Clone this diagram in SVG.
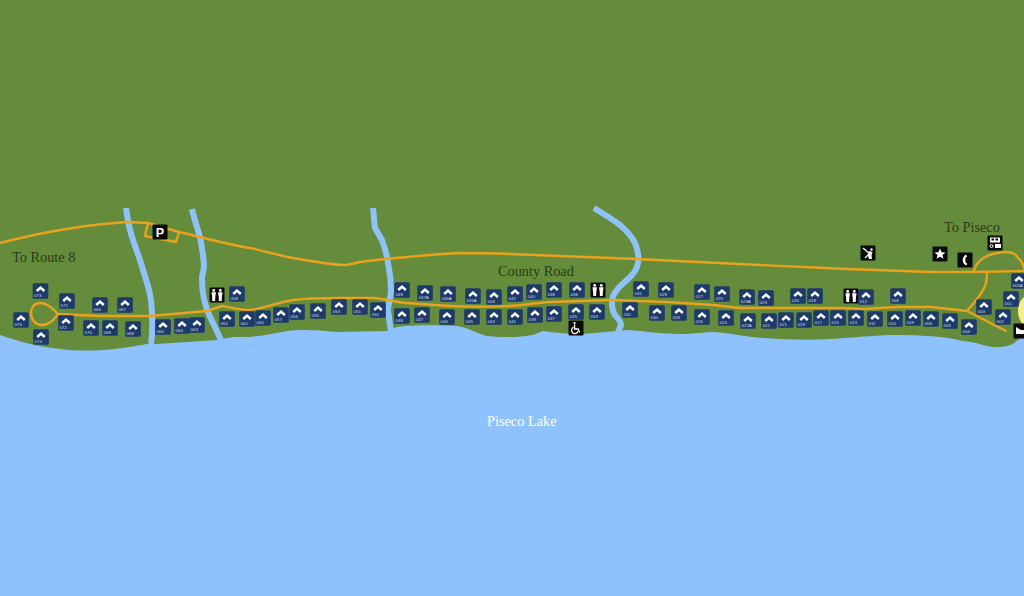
<svg xmlns="http://www.w3.org/2000/svg" width="1024" height="596" viewBox="0 0 1024 596">
<style>
.road{fill:none;stroke:#e9a21e;stroke-width:2.4;stroke-linejoin:round;stroke-linecap:round}
.stream{fill:none;stroke:#8ec2ff;stroke-width:6;stroke-linejoin:round}
.map{font-family:"Liberation Serif",serif;fill:#2b3a1c;font-size:14.3px}
.lake{fill:#fff;font-size:14.3px}
.id{font-family:"Liberation Sans",sans-serif;font-size:4.4px;fill:#d4dbe6}
.tile{fill:#1c3a6b}
.chev{fill:none;stroke:#fff;stroke-width:2.5}
.blk{fill:#0a0a0a}
.wh{fill:#fff}
.whl{fill:none;stroke:#fff;stroke-width:1.3}
</style>
<defs>
<g id="site"><rect class="tile" x="-7.8" y="-7.8" width="15.6" height="15.6" rx="1.5"/><path class="chev" d="M-3.8 0L0 -3.4L3.8 0"/></g>
<g id="restroom"><rect class="blk" x="-7.5" y="-7.5" width="15" height="15" rx="1"/><circle class="wh" cx="-3.3" cy="-4.6" r="1.4"/><path class="wh" d="M-5.6 -2.7H-1L-1.7 1.5L-1.9 6H-4.7L-4.9 1.5Z"/><circle class="wh" cx="3.3" cy="-4.6" r="1.4"/><path class="wh" d="M1 -2.7H5.6L4.9 1.5L4.7 6H1.9L1.7 1.5Z"/></g>
</defs>
<rect id="land" width="1024" height="596" fill="#658c3a"/>
<path id="lake" fill="#8ec2ff" d="M0 335C20 342 40 347 60 349C85 352 110 351 147 344L157 344L217 340L233 337L250 337C262 336 276 333 287 331C300 329 318 330 337 332L387 331L397 327C410 325 440 325 457 326C467 327 478 334 487 336C505 338 520 337 533 335L543 331C555 333 570 334 583 334L617 331L627 330C645 331 660 334 680 334C695 334 705 332 713 332C730 333 745 337 764 338C790 340 815 340 831 339C860 337 880 335 897 335C915 335 930 336 941 337C952 338 960 341 971 342C982 344 990 348 997 347C1005 347 1012 345 1014 343L1024 335V596H0Z"/>
<ellipse id="beach" cx="1028" cy="311" rx="10" ry="15" fill="#f7ec8e"/>
<g id="streams">
<path class="stream" d="M126 208C128 222 130 232 133 240C137 252 141 262 143 270C147 282 150 292 151 300C152 310 153 330 151 344"/>
<path class="stream" d="M192 209C195 222 198 230 200 237C202 248 204 258 204 267L202 277C202 288 203 296 205 303C207 312 210 316 213 323L221 340"/>
<path class="stream" d="M373 208L375 228L382 240C385 248 387 256 388 263C390 272 391 282 391 290C391 298 388 304 388 310L391 332"/>
<path class="stream" d="M594 208C604 214 612 219 620 225C627 231 632 237 635 243C638 250 639 257 638 263C637 268 635 272 632 275C627 281 620 285 617 290C613 294 612 298 612 303C612 308 613 312 615 315C618 319 621 321 621 325L618 332"/>
</g>
<g id="connectors">
<path class="road" d="M0 243C35 234 80 225 127 222L148 223L179 232C205 238 230 245 250 248C265 251 280 256 293 258C312 261 330 265 347 265L360 262C375 260 400 257 457 253C475 253 490 253 510 254L637 259L760 265L847 269L931 272H974L1024 271"/>
<path class="road" d="M148 223L145 236L176 242L179 232"/>
<path class="road" d="M974 271C976 262 984 254 1004 252C1012 252 1016 254 1017 257C1021 260 1023 264 1024 268"/>
<path class="road" d="M987 272C987 280 986 285 984 288C980 297 973 304 967 311L1006 331"/>
<path class="road" d="M58 314L100 316L150 316L207 311L222 306C232 308 240 310 250 310C262 309 275 303 293 300C310 298 322 298 337 298H373C385 299 395 302 407 303L450 306C470 307 490 307 510 306C525 305 535 303 550 302L613 300L667 302L713 305L740 308L764 308L841 308L864 309L897 307H931L967 311"/>
<path class="road" d="M58 314C52 308 47 303 40 303C34 303 31 308 31 313C31 320 36 325 42 325C48 325 54 320 58 314"/>
</g>
<g id="labels">
<text class="map" x="12" y="262">To Route 8</text>
<text class="map" x="498" y="276">County Road</text>
<text class="map" x="944" y="232">To Piseco</text>
<text class="map lake" x="487" y="426">Piseco Lake</text>
</g>
<g id="parking" transform="translate(160 232)"><rect class="blk" x="-7.5" y="-7.5" width="15" height="15" rx="1"/><text x="0" y="4.6" text-anchor="middle" font-family="Liberation Sans,sans-serif" font-weight="700" font-size="12.5" fill="#fff">P</text></g>
<g id="restroom-1" transform="translate(217 295)"><use href="#restroom"/></g>
<g id="restroom-2" transform="translate(598 290)"><use href="#restroom"/></g>
<g id="restroom-3" transform="translate(851 296)"><use href="#restroom"/></g>
<g id="accessible" transform="translate(576 328)"><rect class="blk" x="-7.5" y="-7.5" width="15" height="15" rx="1"/><circle class="wh" cx="-1.5" cy="-4.8" r="1.1"/><path class="whl" d="M-1.4 -3.5V1H2.2L3.6 4.4"/><path class="whl" d="M-2.4 -0.8A3.3 3.3 0 1 0 2 3.2"/></g>
<g id="playground" transform="translate(868 253)"><rect class="blk" x="-7.5" y="-7.5" width="15" height="15" rx="1"/><path class="whl" d="M-5 -5L2 1"/><circle class="wh" cx="3.5" cy="-3.5" r="1.2"/><path class="wh" d="M1 -2L4.5 -1L3.5 2.5L4 6H1L0 2.5Z"/><path class="whl" d="M-3 5L1 1"/></g>
<g id="ranger" transform="translate(940 254)"><rect class="blk" x="-7.5" y="-7.5" width="15" height="15" rx="1"/><path class="wh" d="M0 -5.4L1.6 -1.7L5.5 -1.5L2.5 1L3.4 4.8L0 2.8L-3.4 4.8L-2.5 1L-5.5 -1.5L-1.6 -1.7Z"/></g>
<g id="phone" transform="translate(965 260)"><rect class="blk" x="-7.5" y="-7.5" width="15" height="15" rx="1"/><path class="wh" d="M1 -5.5C-1.5 -4 -2.5 -1 -2.2 1C-2 3 -0.5 5 1.5 5.5L2.2 3.6L0.8 2.8C0.2 1.5 0.2 -0.8 0.6 -2.4L2 -3.6Z"/></g>
<g id="dump-station" transform="translate(995 243)"><rect class="blk" x="-7.5" y="-7.5" width="15" height="15" rx="1"/><rect class="wh" x="-5" y="-5.5" width="10" height="5"/><rect class="blk" x="-3.5" y="-4.5" width="2.5" height="2"/><rect class="blk" x="0.5" y="-4.5" width="2.5" height="2"/><rect class="wh" x="0" y="1" width="6" height="4"/><circle fill="none" stroke="#fff" stroke-width="1" cx="-3.5" cy="3" r="1.5"/></g>
<g id="boat-launch" transform="translate(1021 331)"><rect class="blk" x="-7.5" y="-7.5" width="15" height="15" rx="1"/><path class="wh" d="M-5 -4L0 -1H7V3H-5Z"/></g>
<g id="site-073" transform="translate(40.5 291)"><use href="#site"/><text class="id" x="-6.5" y="6.3">073</text></g>
<g id="site-071" transform="translate(67 301)"><use href="#site"/><text class="id" x="-6.5" y="6.3">071</text></g>
<g id="site-075" transform="translate(21 320)"><use href="#site"/><text class="id" x="-6.5" y="6.3">075</text></g>
<g id="site-074" transform="translate(41 337)"><use href="#site"/><text class="id" x="-6.5" y="6.3">074</text></g>
<g id="site-072" transform="translate(66 323)"><use href="#site"/><text class="id" x="-6.5" y="6.3">072</text></g>
<g id="site-070" transform="translate(91 328)"><use href="#site"/><text class="id" x="-6.5" y="6.3">070</text></g>
<g id="site-069" transform="translate(110 328)"><use href="#site"/><text class="id" x="-6.5" y="6.3">069</text></g>
<g id="site-068" transform="translate(133 329)"><use href="#site"/><text class="id" x="-6.5" y="6.3">068</text></g>
<g id="site-066" transform="translate(100 305)"><use href="#site"/><text class="id" x="-6.5" y="6.3">066</text></g>
<g id="site-067" transform="translate(125 305)"><use href="#site"/><text class="id" x="-6.5" y="6.3">067</text></g>
<g id="site-065" transform="translate(163 327)"><use href="#site"/><text class="id" x="-6.5" y="6.3">065</text></g>
<g id="site-064" transform="translate(182 326)"><use href="#site"/><text class="id" x="-6.5" y="6.3">064</text></g>
<g id="site-063" transform="translate(197 325)"><use href="#site"/><text class="id" x="-6.5" y="6.3">063</text></g>
<g id="site-058" transform="translate(237 294)"><use href="#site"/><text class="id" x="-6.5" y="6.3">058</text></g>
<g id="site-062" transform="translate(227 319)"><use href="#site"/><text class="id" x="-6.5" y="6.3">062</text></g>
<g id="site-061" transform="translate(247 319)"><use href="#site"/><text class="id" x="-6.5" y="6.3">061</text></g>
<g id="site-060" transform="translate(263 318)"><use href="#site"/><text class="id" x="-6.5" y="6.3">060</text></g>
<g id="site-057" transform="translate(281 315)"><use href="#site"/><text class="id" x="-6.5" y="6.3">057</text></g>
<g id="site-056" transform="translate(297 312)"><use href="#site"/><text class="id" x="-6.5" y="6.3">056</text></g>
<g id="site-055" transform="translate(318 311)"><use href="#site"/><text class="id" x="-6.5" y="6.3">055</text></g>
<g id="site-053" transform="translate(339 307)"><use href="#site"/><text class="id" x="-6.5" y="6.3">053</text></g>
<g id="site-051" transform="translate(360 307)"><use href="#site"/><text class="id" x="-6.5" y="6.3">051</text></g>
<g id="site-050" transform="translate(378 310)"><use href="#site"/><text class="id" x="-6.5" y="6.3">050</text></g>
<g id="site-049" transform="translate(402 290)"><use href="#site"/><text class="id" x="-6.5" y="6.3">049</text></g>
<g id="site-047A" transform="translate(425 293)"><use href="#site"/><text class="id" x="-6.5" y="6.3">047A</text></g>
<g id="site-046A" transform="translate(448 294)"><use href="#site"/><text class="id" x="-6.5" y="6.3">046A</text></g>
<g id="site-045A" transform="translate(473 296)"><use href="#site"/><text class="id" x="-6.5" y="6.3">045A</text></g>
<g id="site-044" transform="translate(494 297)"><use href="#site"/><text class="id" x="-6.5" y="6.3">044</text></g>
<g id="site-048" transform="translate(402 316)"><use href="#site"/><text class="id" x="-6.5" y="6.3">048</text></g>
<g id="site-047" transform="translate(422 315)"><use href="#site"/><text class="id" x="-6.5" y="6.3">047</text></g>
<g id="site-046" transform="translate(447 317)"><use href="#site"/><text class="id" x="-6.5" y="6.3">046</text></g>
<g id="site-045" transform="translate(472 317)"><use href="#site"/><text class="id" x="-6.5" y="6.3">045</text></g>
<g id="site-043" transform="translate(494 317)"><use href="#site"/><text class="id" x="-6.5" y="6.3">043</text></g>
<g id="site-042" transform="translate(515 294)"><use href="#site"/><text class="id" x="-6.5" y="6.3">042</text></g>
<g id="site-040" transform="translate(534 292)"><use href="#site"/><text class="id" x="-6.5" y="6.3">040</text></g>
<g id="site-038" transform="translate(554 290)"><use href="#site"/><text class="id" x="-6.5" y="6.3">038</text></g>
<g id="site-036" transform="translate(577 290)"><use href="#site"/><text class="id" x="-6.5" y="6.3">036</text></g>
<g id="site-041" transform="translate(515 317)"><use href="#site"/><text class="id" x="-6.5" y="6.3">041</text></g>
<g id="site-039" transform="translate(535 315)"><use href="#site"/><text class="id" x="-6.5" y="6.3">039</text></g>
<g id="site-037" transform="translate(554 314)"><use href="#site"/><text class="id" x="-6.5" y="6.3">037</text></g>
<g id="site-035" transform="translate(576 312)"><use href="#site"/><text class="id" x="-6.5" y="6.3">035</text></g>
<g id="site-033" transform="translate(597 312)"><use href="#site"/><text class="id" x="-6.5" y="6.3">033</text></g>
<g id="site-032" transform="translate(630 310)"><use href="#site"/><text class="id" x="-6.5" y="6.3">032</text></g>
<g id="site-031" transform="translate(641 289)"><use href="#site"/><text class="id" x="-6.5" y="6.3">031</text></g>
<g id="site-029" transform="translate(666 290)"><use href="#site"/><text class="id" x="-6.5" y="6.3">029</text></g>
<g id="site-030" transform="translate(657 313)"><use href="#site"/><text class="id" x="-6.5" y="6.3">030</text></g>
<g id="site-028" transform="translate(679 313)"><use href="#site"/><text class="id" x="-6.5" y="6.3">028</text></g>
<g id="site-027" transform="translate(702 292)"><use href="#site"/><text class="id" x="-6.5" y="6.3">027</text></g>
<g id="site-025" transform="translate(722 294)"><use href="#site"/><text class="id" x="-6.5" y="6.3">025</text></g>
<g id="site-023A" transform="translate(747 297)"><use href="#site"/><text class="id" x="-6.5" y="6.3">023A</text></g>
<g id="site-023" transform="translate(766 298)"><use href="#site"/><text class="id" x="-6.5" y="6.3">023</text></g>
<g id="site-026" transform="translate(702 317)"><use href="#site"/><text class="id" x="-6.5" y="6.3">026</text></g>
<g id="site-024" transform="translate(726 318)"><use href="#site"/><text class="id" x="-6.5" y="6.3">024</text></g>
<g id="site-022A" transform="translate(748 321)"><use href="#site"/><text class="id" x="-6.5" y="6.3">022A</text></g>
<g id="site-022" transform="translate(769 321)"><use href="#site"/><text class="id" x="-6.5" y="6.3">022</text></g>
<g id="site-021" transform="translate(786 320)"><use href="#site"/><text class="id" x="-6.5" y="6.3">021</text></g>
<g id="site-019" transform="translate(804 320)"><use href="#site"/><text class="id" x="-6.5" y="6.3">019</text></g>
<g id="site-017" transform="translate(821 318)"><use href="#site"/><text class="id" x="-6.5" y="6.3">017</text></g>
<g id="site-015" transform="translate(838 318)"><use href="#site"/><text class="id" x="-6.5" y="6.3">015</text></g>
<g id="site-013" transform="translate(856 318)"><use href="#site"/><text class="id" x="-6.5" y="6.3">013</text></g>
<g id="site-011" transform="translate(875 319)"><use href="#site"/><text class="id" x="-6.5" y="6.3">011</text></g>
<g id="site-010" transform="translate(895 319)"><use href="#site"/><text class="id" x="-6.5" y="6.3">010</text></g>
<g id="site-009" transform="translate(913 318)"><use href="#site"/><text class="id" x="-6.5" y="6.3">009</text></g>
<g id="site-008" transform="translate(931 319)"><use href="#site"/><text class="id" x="-6.5" y="6.3">008</text></g>
<g id="site-005" transform="translate(950 321)"><use href="#site"/><text class="id" x="-6.5" y="6.3">005</text></g>
<g id="site-004" transform="translate(969 327)"><use href="#site"/><text class="id" x="-6.5" y="6.3">004</text></g>
<g id="site-020" transform="translate(798 296)"><use href="#site"/><text class="id" x="-6.5" y="6.3">020</text></g>
<g id="site-018" transform="translate(815 296)"><use href="#site"/><text class="id" x="-6.5" y="6.3">018</text></g>
<g id="site-012" transform="translate(866 297)"><use href="#site"/><text class="id" x="-6.5" y="6.3">012</text></g>
<g id="site-006" transform="translate(898 296)"><use href="#site"/><text class="id" x="-6.5" y="6.3">006</text></g>
<g id="site-003" transform="translate(984 307)"><use href="#site"/><text class="id" x="-6.5" y="6.3">003</text></g>
<g id="site-002" transform="translate(1003 317)"><use href="#site"/><text class="id" x="-6.5" y="6.3">002</text></g>
<g id="site-001" transform="translate(1011 299)"><use href="#site"/><text class="id" x="-6.5" y="6.3">001</text></g>
<g id="site-001A" transform="translate(1019 281)"><use href="#site"/><text class="id" x="-6.5" y="6.3">001A</text></g>
</svg>
